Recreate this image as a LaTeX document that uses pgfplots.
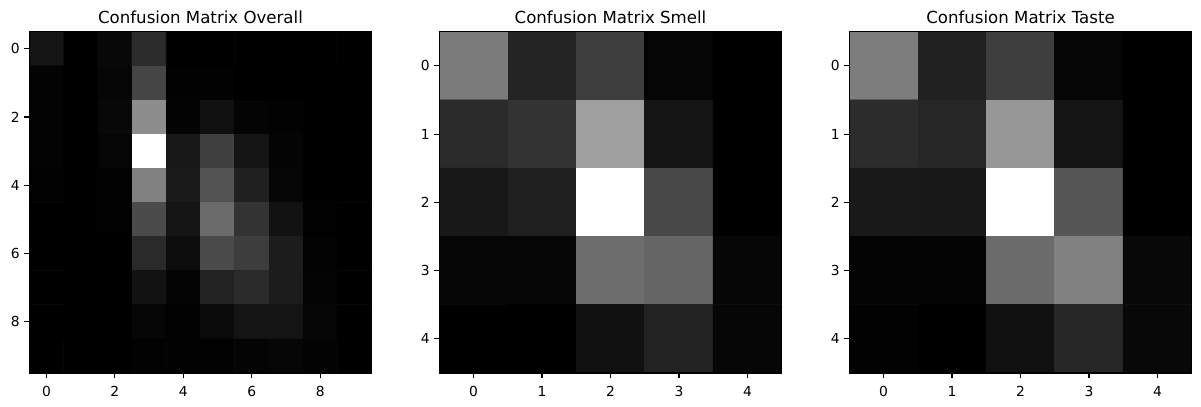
\documentclass[border=0pt]{standalone}
\usepackage{fontspec}
\setmainfont{DejaVu Sans}
\usepackage{pgfplots}
\pgfplotsset{compat=1.18}
\pgfplotsset{
  cm/.style={
    scale only axis, width=3.424in, height=3.413in,
    enlargelimits=false, y dir=reverse, axis on top,
    colormap={graymap}{gray(0cm)=(0); gray(1cm)=(1)},
    point meta min=0, point meta max=255,
    tick align=outside, xtick pos=bottom, ytick pos=left,
    major tick length=3.5pt,
    every tick/.style={black, line width=0.8pt},
    axis line style={line width=0.8pt},
    tick label style={font=\fontsize{10}{12}\selectfont},
    xticklabel style={yshift=-2.5pt},
    /pgf/number format/assume math mode=true,
    title style={font=\fontsize{12}{14}\selectfont, yshift=-4pt},
    anchor=south west,
  }
}
\begin{document}
\begin{tikzpicture}
\useasboundingbox (0,0) rectangle (12.01in,4.07in);
% Overall
\begin{axis}[cm, at={(0.293in,0.34in)}, xmin=-0.5, xmax=9.5, ymin=-0.5, ymax=9.5,
  xtick={0,2,4,6,8}, ytick={0,2,4,6,8}, title={Confusion Matrix Overall}]
\addplot[matrix plot*, mesh/cols=10, point meta=explicit] table[meta=c] {
x y c
0 0 20
1 0 0
2 0 8
3 0 44
4 0 0
5 0 0
6 0 0
7 0 0
8 0 0
9 0 0
0 1 3
1 1 0
2 1 6
3 1 69
4 1 2
5 1 2
6 1 0
7 1 0
8 1 0
9 1 0
0 2 3
1 2 0
2 2 8
3 2 140
4 2 3
5 2 16
6 2 4
7 2 2
8 2 0
9 2 0
0 3 3
1 3 0
2 3 5
3 3 255
4 3 23
5 3 64
6 3 20
7 3 4
8 3 0
9 3 0
0 4 2
1 4 0
2 4 1
3 4 128
4 4 26
5 4 82
6 4 32
7 4 5
8 4 0
9 4 0
0 5 0
1 5 0
2 5 1
3 5 74
4 5 20
5 5 106
6 5 51
7 5 18
8 5 1
9 5 0
0 6 0
1 6 0
2 6 0
3 6 42
4 6 12
5 6 74
6 6 61
7 6 28
8 6 3
9 6 0
0 7 0
1 7 0
2 7 0
3 7 18
4 7 4
5 7 34
6 7 42
7 7 28
8 7 4
9 7 0
0 8 0
1 8 0
2 8 0
3 8 6
4 8 1
5 8 11
6 8 20
7 8 20
8 8 5
9 8 0
0 9 0
1 9 0
2 9 0
3 9 2
4 9 1
5 9 2
6 9 4
7 9 6
8 9 3
9 9 0
};
\end{axis}
% Smell
\begin{axis}[cm, at={(4.393in,0.34in)}, xmin=-0.5, xmax=4.5, ymin=-0.5, ymax=4.5,
  xtick={0,1,2,3,4}, ytick={0,1,2,3,4}, title={Confusion Matrix Smell}]
\addplot[matrix plot*, mesh/cols=5, point meta=explicit] table[meta=c] {
x y c
0 0 122
1 0 36
2 0 62
3 0 5
4 0 0
0 1 43
1 1 51
2 1 158
3 1 20
4 1 0
0 2 24
1 2 32
2 2 255
3 2 71
4 2 0
0 3 5
1 3 5
2 3 108
3 3 100
4 3 6
0 4 0
1 4 0
2 4 16
3 4 34
4 4 6
};
\end{axis}
% Taste
\begin{axis}[cm, at={(8.493in,0.34in)}, xmin=-0.5, xmax=4.5, ymin=-0.5, ymax=4.5,
  xtick={0,1,2,3,4}, ytick={0,1,2,3,4}, title={Confusion Matrix Taste}]
\addplot[matrix plot*, mesh/cols=5, point meta=explicit] table[meta=c] {
x y c
0 0 124
1 0 33
2 0 62
3 0 5
4 0 0
0 1 44
1 1 38
2 1 150
3 1 20
4 1 0
0 2 25
1 2 24
2 2 255
3 2 85
4 2 0
0 3 4
1 3 4
2 3 106
3 3 128
4 3 8
0 4 2
1 4 0
2 4 16
3 4 38
4 4 8
};
\end{axis}
\end{tikzpicture}
\end{document}
